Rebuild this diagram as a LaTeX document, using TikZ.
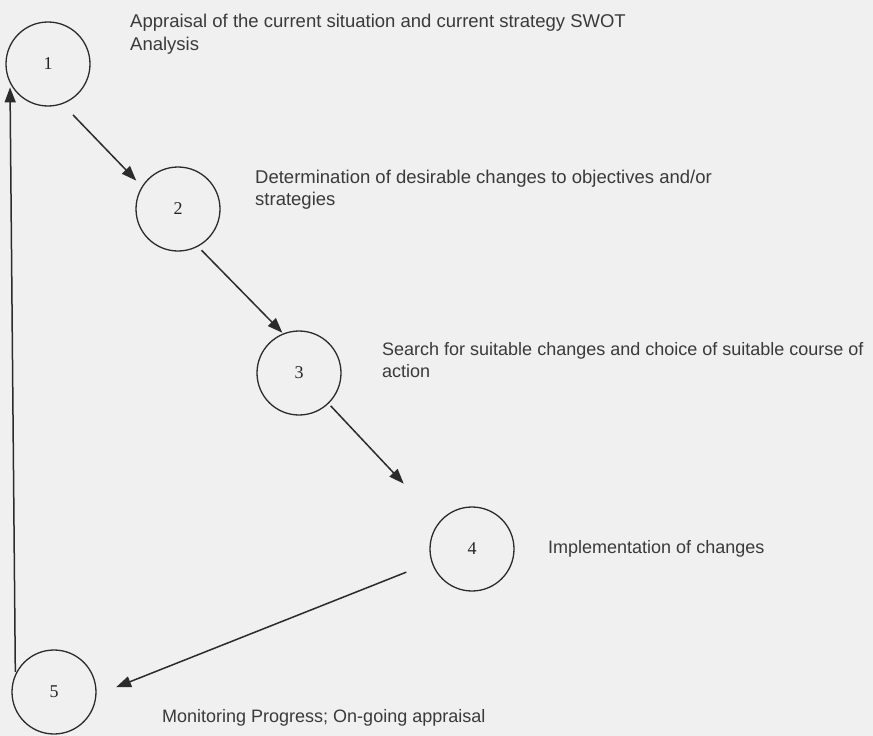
\documentclass[tikz,border=0pt]{standalone}
\usepackage{fontspec}
\setmainfont{Liberation Sans}
\newfontfamily\numfont{Liberation Serif}
\usetikzlibrary{arrows.meta}

\definecolor{linegray}{HTML}{2B2B2B}
\definecolor{textgray}{HTML}{3A3A3A}
\definecolor{paper}{HTML}{F0F0F0}

\begin{document}
\begin{tikzpicture}[x=1pt,y=-1pt,
    stage/.style={circle,draw=linegray,line width=1.3pt,minimum size=84pt,inner sep=0pt,
      font=\numfont\fontsize{18}{20}\selectfont,text=black!85},
    note/.style={anchor=base west,inner sep=0pt,align=left,text=textgray,
      font=\fontsize{18}{22.5}\selectfont},
    wide/.style={font=\fontsize{18.5}{22.5}\selectfont},
    flow/.style={draw=linegray,line width=1.5pt,-{Triangle[length=15pt,width=11pt]}}]
  \useasboundingbox[fill=paper] (0,0) rectangle (873,736);
  % Stages of the cycle
  \node[stage] (s1) at (48,64) {1};
  \node[stage] (s2) at (178,209) {2};
  \node[stage] (s3) at (299,373) {3};
  \node[stage] (s4) at (472,549) {4};
  \node[stage] (s5) at (54,692) {5};
  % Labelling the stages (base = last line)
  \node[note,wide] (t1) at (130,50) {Appraisal of the current situation and current strategy SWOT\\Analysis};
  \node[note,wide] (t2) at (255,205.5) {Determination of desirable changes to objectives and/or\\strategies};
  \node[note] (t3) at (382,377.5) {Search for suitable changes and choice of suitable course of\\action};
  \node[note] (t4) at (548,553) {Implementation of changes};
  \node[note] (t5) at (162,722) {Monitoring Progress; On-going appraisal};
  % Arrows between the stages
  \draw[flow,shorten <=15pt,shorten >=8pt] (s1.-70) -- (s2.148);
  \draw[flow,shorten <=5pt,shorten >=1pt] (s2.-62) -- (s3.112);
  \draw[flow,shorten <=3pt,shorten >=52pt] (s3.-46) -- (s4.140);
  \draw[flow,shorten <=27pt,shorten >=21pt] (s4.198) -- (s5.-4);
  \draw[flow,shorten <=2pt,shorten >=4pt] (s5.155) -- (s1.207);
\end{tikzpicture}
\end{document}
